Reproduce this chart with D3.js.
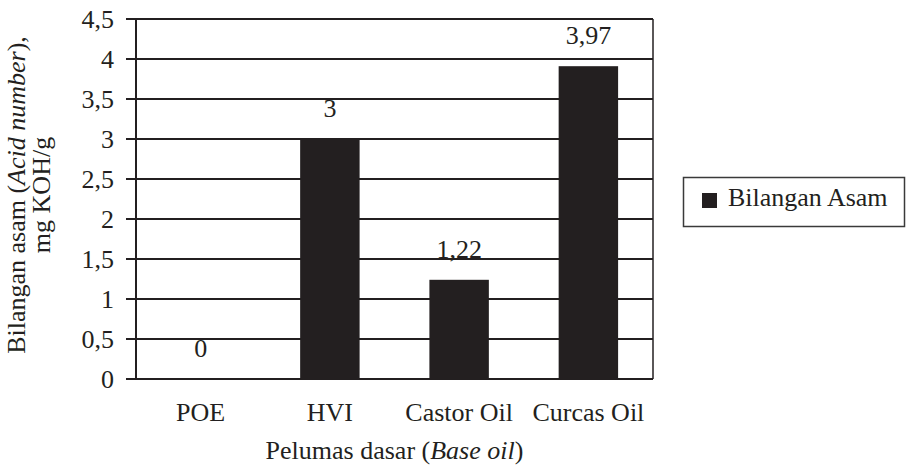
<!DOCTYPE html>
<html>
<head>
<meta charset="utf-8">
<script src="https://cdn.jsdelivr.net/npm/d3@7"></script>
<style>
  body { margin: 0; background: #fff; }
  svg text { fill: #231f20; }
</style>
</head>
<body>
<div id="chart"></div>
<script>
// ---------------------------------------------------------------------------//
// Data
// ---------------------------------------------------------------------------//
const categories = ["POE", "HVI", "Castor Oil", "Curcas Oil"];
const acidValues = [0, 3, 1.24, 3.91];           // bar heights as drawn
const valueLabels = ["0", "3", "1,22", "3,97"];  // labels printed above bars
const yTicks = [0, 0.5, 1, 1.5, 2, 2.5, 3, 3.5, 4, 4.5];
const seriesName = "Bilangan Asam";

const formatTick = (d) => String(d).replace(".", ",");

// ---------------------------------------------------------------------------//
// Layout
// ---------------------------------------------------------------------------//
const width = 907;
const height = 471;
const plot = { left: 136, right: 653, top: 19, bottom: 379 };
const ink = "#231f20";
const fontSize = 26;
const fontFamily = "'Liberation Serif', 'DejaVu Serif', serif";

const svg = d3.select("#chart")
  .append("svg")
  .attr("width", width)
  .attr("height", height)
  .style("font-family", fontFamily);

const x = d3.scaleBand()
  .domain(categories)
  .range([plot.left, plot.right])
  .paddingInner(0.54)
  .paddingOuter(0.27);

const y = d3.scaleLinear()
  .domain([0, 4.5])
  .range([plot.bottom, plot.top]);

// gridlines
svg.append("g")
  .selectAll("line")
  .data(yTicks)
  .join("line")
  .attr("x1", plot.left - 10)
  .attr("x2", plot.right)
  .attr("y1", (d) => y(d))
  .attr("y2", (d) => y(d))
  .attr("stroke", ink)
  .attr("stroke-width", 2);

// tick labels
svg.append("g")
  .selectAll("text")
  .data(yTicks)
  .join("text")
  .attr("x", plot.left - 22)
  .attr("y", (d) => y(d))
  .attr("dy", "0.33em")
  .attr("text-anchor", "end")
  .style("font-size", `${fontSize}px`)
  .text(formatTick);

// left axis + right border
svg.append("line")
  .attr("x1", plot.left).attr("x2", plot.left)
  .attr("y1", plot.top).attr("y2", plot.bottom)
  .attr("stroke", ink).attr("stroke-width", 2);
svg.append("line")
  .attr("x1", plot.right).attr("x2", plot.right)
  .attr("y1", plot.top).attr("y2", plot.bottom)
  .attr("stroke", ink).attr("stroke-width", 1.5);

// bars
svg.append("g")
  .selectAll("rect")
  .data(categories)
  .join("rect")
  .attr("x", (d) => x(d))
  .attr("width", x.bandwidth())
  .attr("y", (d, i) => y(acidValues[i]))
  .attr("height", (d, i) => y(0) - y(acidValues[i]))
  .attr("fill", ink);

// value labels
svg.append("g")
  .selectAll("text")
  .data(categories)
  .join("text")
  .attr("x", (d) => x(d) + x.bandwidth() / 2)
  .attr("y", (d, i) => y(acidValues[i]) - 22)
  .attr("text-anchor", "middle")
  .style("font-size", `${fontSize}px`)
  .text((d, i) => valueLabels[i]);

// category labels
svg.append("g")
  .selectAll("text")
  .data(categories)
  .join("text")
  .attr("x", (d) => x(d) + x.bandwidth() / 2)
  .attr("y", 421)
  .attr("text-anchor", "middle")
  .style("font-size", `${fontSize}px`)
  .text((d) => d);

// x title
const xTitle = svg.append("text")
  .attr("x", (plot.left + plot.right) / 2)
  .attr("y", 459)
  .attr("text-anchor", "middle")
  .style("font-size", `${fontSize}px`);
xTitle.append("tspan").text("Pelumas dasar (");
xTitle.append("tspan").style("font-style", "italic").text("Base oil");
xTitle.append("tspan").text(")");

// y title (two lines, rotated)
const yTitle = svg.append("text")
  .attr("transform", `translate(25,${(plot.top + plot.bottom) / 2 - 4}) rotate(-90)`)
  .attr("text-anchor", "middle")
  .style("font-size", `${fontSize}px`);
const line1 = yTitle.append("tspan").attr("x", 0).attr("y", 0);
line1.append("tspan").text("Bilangan asam (");
line1.append("tspan").style("font-style", "italic").text("Acid number");
line1.append("tspan").text("),");
yTitle.append("tspan").attr("x", 0).attr("y", 25).text("mg KOH/g");

// legend
const legend = svg.append("g");
legend.append("rect")
  .attr("x", 683.5).attr("y", 177.5)
  .attr("width", 221).attr("height", 49)
  .attr("fill", "#fff")
  .attr("stroke", "#3a3a3a")
  .attr("stroke-width", 1.5);
legend.append("rect")
  .attr("x", 702).attr("y", 193)
  .attr("width", 15).attr("height", 15)
  .attr("fill", ink);
legend.append("text")
  .attr("x", 728).attr("y", 206)
  .style("font-size", `${fontSize}px`)
  .text(seriesName);
</script>
</body>
</html>
